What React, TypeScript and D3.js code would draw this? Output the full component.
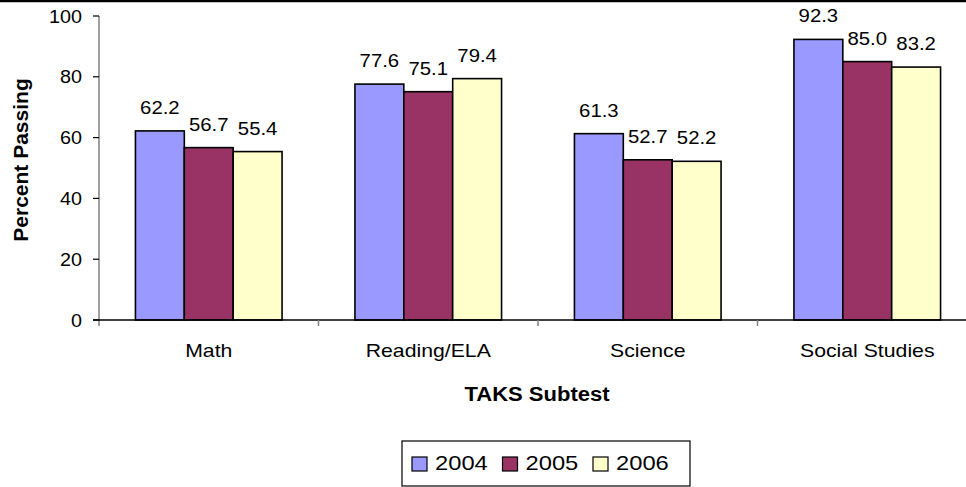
import React from "react";
import * as d3 from "d3";

const subtests = ["Math", "Reading/ELA", "Science", "Social Studies"];
const years = ["2004", "2005", "2006"];
const pass2004 = [62.2, 77.6, 61.3, 92.3];
const pass2005 = [56.7, 75.1, 52.7, 85.0];
const pass2006 = [55.4, 79.4, 52.2, 83.2];
const yTicks = [0, 20, 40, 60, 80, 100];

const seriesColors = ["#9999FF", "#993366", "#FFFFCC"];
const FONT = "'Liberation Sans', Arial, Helvetica, sans-serif";
const SX = 1.13;

const W = 966;
const H = 487;

function T({ x, y, anchor = "start", size, bold = false, children }: any) {
  return (
    <g transform={`translate(${x},${y}) scale(${SX},1)`}>
      <text
        x={0}
        y={0}
        textAnchor={anchor}
        fontFamily={FONT}
        fontSize={size}
        fontWeight={bold ? "bold" : "normal"}
        fill="#000"
      >
        {children}
      </text>
    </g>
  );
}

export default function App() {
  const series = [pass2004, pass2005, pass2006];
  const plotLeft = 99;
  const step = 219.5;

  const y = d3.scaleLinear().domain([0, 100]).range([320, 16]);
  const x0 = d3
    .scaleBand<string>()
    .domain(subtests)
    .range([plotLeft, plotLeft + step * subtests.length])
    .paddingInner(0.332)
    .paddingOuter(0.166);
  const x1 = d3.scaleBand<string>().domain(years).range([0, x0.bandwidth()]);

  const catBounds = subtests.map((_, i) => plotLeft + i * step);

  return (
    <svg
      width={W}
      height={H}
      style={{ position: "absolute", left: 0, top: 0, background: "#fff" }}
    >
      <rect x={0} y={0} width={W} height={H} fill="#fff" />
      {/* top border */}
      <line x1={0} x2={W} y1={1} y2={1} stroke="#000" strokeWidth={2.5} />

      {/* bars */}
      {subtests.map((s, i) =>
        years.map((yr, j) => {
          const v = series[j][i];
          const bx = (x0(s) as number) + (x1(yr) as number);
          return (
            <rect
              key={s + yr}
              x={bx}
              y={y(v)}
              width={x1.bandwidth()}
              height={y(0) - y(v)}
              fill={seriesColors[j]}
              stroke="#000"
              strokeWidth={1.6}
            />
          );
        })
      )}

      {/* value labels */}
      {subtests.map((s, i) =>
        years.map((yr, j) => {
          const v = series[j][i];
          const cx = (x0(s) as number) + (x1(yr) as number) + x1.bandwidth() / 2;
          return (
            <T key={"l" + s + yr} x={cx} y={y(v) - 17} anchor="middle" size={18}>
              {v.toFixed(1)}
            </T>
          );
        })
      )}

      {/* y axis */}
      <line x1={plotLeft} x2={plotLeft} y1={y(100)} y2={326} stroke="#808080" strokeWidth={1.5} />
      {yTicks.map((t) => (
        <g key={"yt" + t}>
          <line x1={plotLeft - 6} x2={plotLeft} y1={y(t)} y2={y(t)} stroke="#000" strokeWidth={1.2} />
          <T x={82} y={y(t) + 6.5} anchor="end" size={17.5}>
            {t}
          </T>
        </g>
      ))}

      {/* x axis */}
      <line x1={plotLeft - 6} x2={W} y1={y(0)} y2={y(0)} stroke="#000" strokeWidth={1.5} />
      {catBounds.slice(1).map((b, i) => (
        <line key={"xt" + i} x1={b} x2={b} y1={y(0)} y2={y(0) + 6} stroke="#808080" strokeWidth={1.5} />
      ))}
      {subtests.map((s) => (
        <T key={"c" + s} x={(x0(s) as number) + x0.bandwidth() / 2} y={357} anchor="middle" size={18.8}>
          {s}
        </T>
      ))}

      {/* axis titles */}
      <T x={537} y={401} anchor="middle" size={19.5} bold>
        TAKS Subtest
      </T>
      <g transform="translate(28,160) rotate(-90)">
        <text textAnchor="middle" fontFamily={FONT} fontSize={21} fontWeight="bold" fill="#000">
          Percent Passing
        </text>
      </g>

      {/* legend */}
      <rect x={402} y={441} width={288} height={45} fill="#fff" stroke="#000" strokeWidth={1.2} />
      {years.map((yr, j) => {
        const lx = 412 + j * 90.5;
        return (
          <g key={"lg" + yr}>
            <rect x={lx} y={457} width={15} height={14} fill={seriesColors[j]} stroke="#000" strokeWidth={1.2} />
            <T x={lx + 23} y={470} size={21}>
              {yr}
            </T>
          </g>
        );
      })}
    </svg>
  );
}
